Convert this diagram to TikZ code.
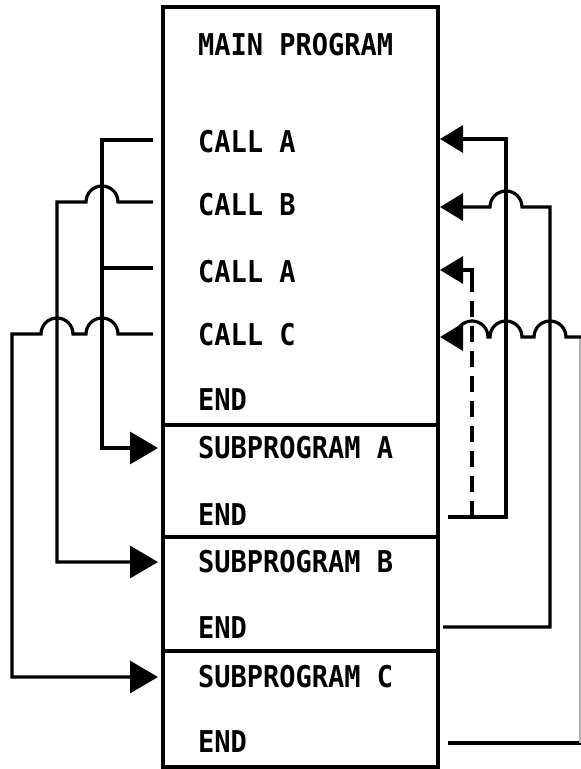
\documentclass[tikz,border=0pt]{standalone}
\usepackage{fontspec}
\newfontfamily\monof[FakeStretch=0.9]{DejaVu Sans Mono}
\usetikzlibrary{arrows.meta}
\tikzset{
  lbl/.style={anchor=base west, inner sep=0pt, font=\monof\bfseries\fontsize{30}{36}\selectfont},
  wire/.style={line width=3.2pt, line join=miter},
  boxline/.style={line width=3.4pt},
  larrow/.style={wire, -{Triangle[length=28pt,width=32pt]}},
  rarrow/.style={wire, -{Triangle[length=23pt,width=27pt]}},
  dash line/.style={wire, dash pattern=on 16pt off 9pt},
  faint/.style={line width=1.2pt, black!30}
}
\begin{document}
\begin{tikzpicture}[x=1pt,y=1pt]
\useasboundingbox (0,0) rectangle (581,-769);
% stacked boxes
\draw[boxline] (163,-7) rectangle (438,-767);
\draw[boxline] (163,-425) -- (438,-425);
\draw[boxline] (163,-537) -- (438,-537);
\draw[boxline] (163,-651) -- (438,-651);
% texts
\node[lbl] (main) at (198,-55) {MAIN PROGRAM};
\node[lbl] (ca1) at (198,-152) {CALL A};
\node[lbl] (cb) at (198,-215) {CALL B};
\node[lbl] (ca2) at (198,-282) {CALL A};
\node[lbl] (cc) at (198,-345) {CALL C};
\node[lbl] (endm) at (198,-410) {END};
\node[lbl] (sa) at (198,-458) {SUBPROGRAM A};
\node[lbl] (enda) at (198,-525) {END};
\node[lbl] (sb) at (198,-572) {SUBPROGRAM B};
\node[lbl] (endb) at (198,-638) {END};
\node[lbl] (sc) at (198,-687) {SUBPROGRAM C};
\node[lbl] (endc) at (198,-752) {END};
% connector end points
\coordinate (lA1) at (153,-140);
\coordinate (lB) at (153,-202);
\coordinate (lA2) at (153,-268);
\coordinate (lC) at (153,-334);
\coordinate (inA) at (158,-448);
\coordinate (inB) at (158,-562);
\coordinate (inC) at (158,-677);
\coordinate (rA1) at (440,-139);
\coordinate (rB) at (440,-207);
\coordinate (rA2) at (440,-270);
\coordinate (rC) at (440,-337);
\coordinate (outA) at (448,-517);
\coordinate (outB) at (443,-627);
\coordinate (outC) at (448,-743);
% left: calls
\draw[larrow] (lA1) -- (102,-140) -- (102,-448) -- (inA);
\draw[wire] (lA2) -- (102,-268);
\draw[larrow] (lB) -- (118,-202) arc[start angle=0,end angle=180,radius=16]
  -- (57,-202) -- (57,-562) -- (inB);
\draw[larrow] (lC) -- (118,-334) arc[start angle=0,end angle=180,radius=16]
  -- (73,-334) arc[start angle=0,end angle=180,radius=16]
  -- (12,-334) -- (12,-677) -- (inC);
% right: returns
\draw[rarrow] (outA) -- (506,-517) -- (506,-139) -- (rA1);
\draw[dash line] (472,-517) -- (472,-280);
\draw[rarrow] (472,-281) -- (472,-270) -- (rA2);
\draw[rarrow] (outB) -- (550,-627) -- (550,-207) -- (522,-207)
  arc[start angle=0,end angle=180,radius=16] -- (rB);
\draw[wire] (outC) -- (581,-743);
\draw[faint] (580,-743) -- (580,-337);
\draw[rarrow] (581,-337) -- (566,-337) arc[start angle=0,end angle=180,radius=16]
  -- (522,-337) arc[start angle=0,end angle=180,radius=16]
  -- (488,-337) arc[start angle=0,end angle=180,radius=16] -- (rC);
\end{tikzpicture}
\end{document}
